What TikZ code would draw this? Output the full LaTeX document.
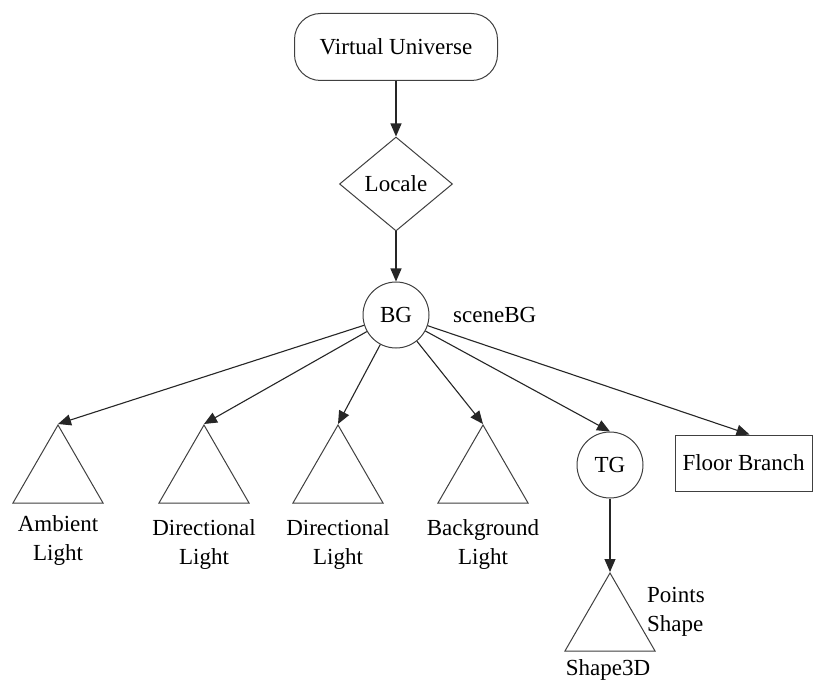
\documentclass[tikz,border=0pt]{standalone}
\usepackage{fontspec}
\setmainfont{Liberation Serif}
\usetikzlibrary{shapes.geometric,arrows.meta}
\tikzset{
  shp/.style={draw=black!75, line width=1pt, inner sep=0pt},
  conn/.style={draw=black!85, line width=1.1pt, -{Triangle[length=13pt,width=11pt]}},
  tri/.style={shp, regular polygon, regular polygon sides=3, minimum size=104pt},
  circ/.style={shp, circle, minimum size=66pt},
  lbl/.style={inner sep=0pt, align=center, anchor=north},
}
\begin{document}
\begin{tikzpicture}[x=1pt,y=-1pt, font=\fontsize{23}{29}\selectfont]
\useasboundingbox[fill=white] (0,0) rectangle (823,682);
% top chain
\node[shp, rectangle, rounded corners=26pt, minimum width=203pt, minimum height=67pt] (vu) at (396,47) {Virtual Universe};
\node[shp, diamond, minimum width=113pt, minimum height=94pt] (loc) at (396,184) {Locale};
\node[circ] (bg) at (396,315) {BG};
\node[inner sep=0pt, anchor=base west] (sbg) at (453,322) {sceneBG};
% children
\node[tri] (t1) at (58,477) {};
\node[tri] (t2) at (204,477) {};
\node[tri] (t3) at (338,477) {};
\node[tri] (t4) at (483,477) {};
\node[circ] (tg) at (610,465) {TG};
\node[shp, rectangle, minimum width=137pt, minimum height=56pt] (fb) at (743.5,463) {Floor Branch};
\node[tri] (s3) at (610,625) {};
% labels
\node[lbl] (l1) at (58,515) {Ambient\\Light};
\node[lbl] (l2) at (204,519) {Directional\\Light};
\node[lbl] (l3) at (338,519) {Directional\\Light};
\node[lbl] (l4) at (483,519) {Background\\Light};
\node[inner sep=0pt, align=left, anchor=north west] (ps) at (647,587) {Points\\Shape};
\node[inner sep=0pt, anchor=south] (s3l) at (608,681) {Shape3D};
% connectors
\draw[conn] (vu.south) -- (loc.north);
\draw[conn] (loc.south) -- (bg.north);
\draw[conn] (bg) -- (t1.corner 1);
\draw[conn] (bg) -- (t2.corner 1);
\draw[conn] (bg) -- (t3.corner 1);
\draw[conn] (bg) -- (t4.corner 1);
\draw[conn] (bg) -- (tg.north);
\draw[conn] (bg) -- ([xshift=6pt]fb.north);
\draw[conn] (tg.south) -- (s3.corner 1);
\end{tikzpicture}
\end{document}
